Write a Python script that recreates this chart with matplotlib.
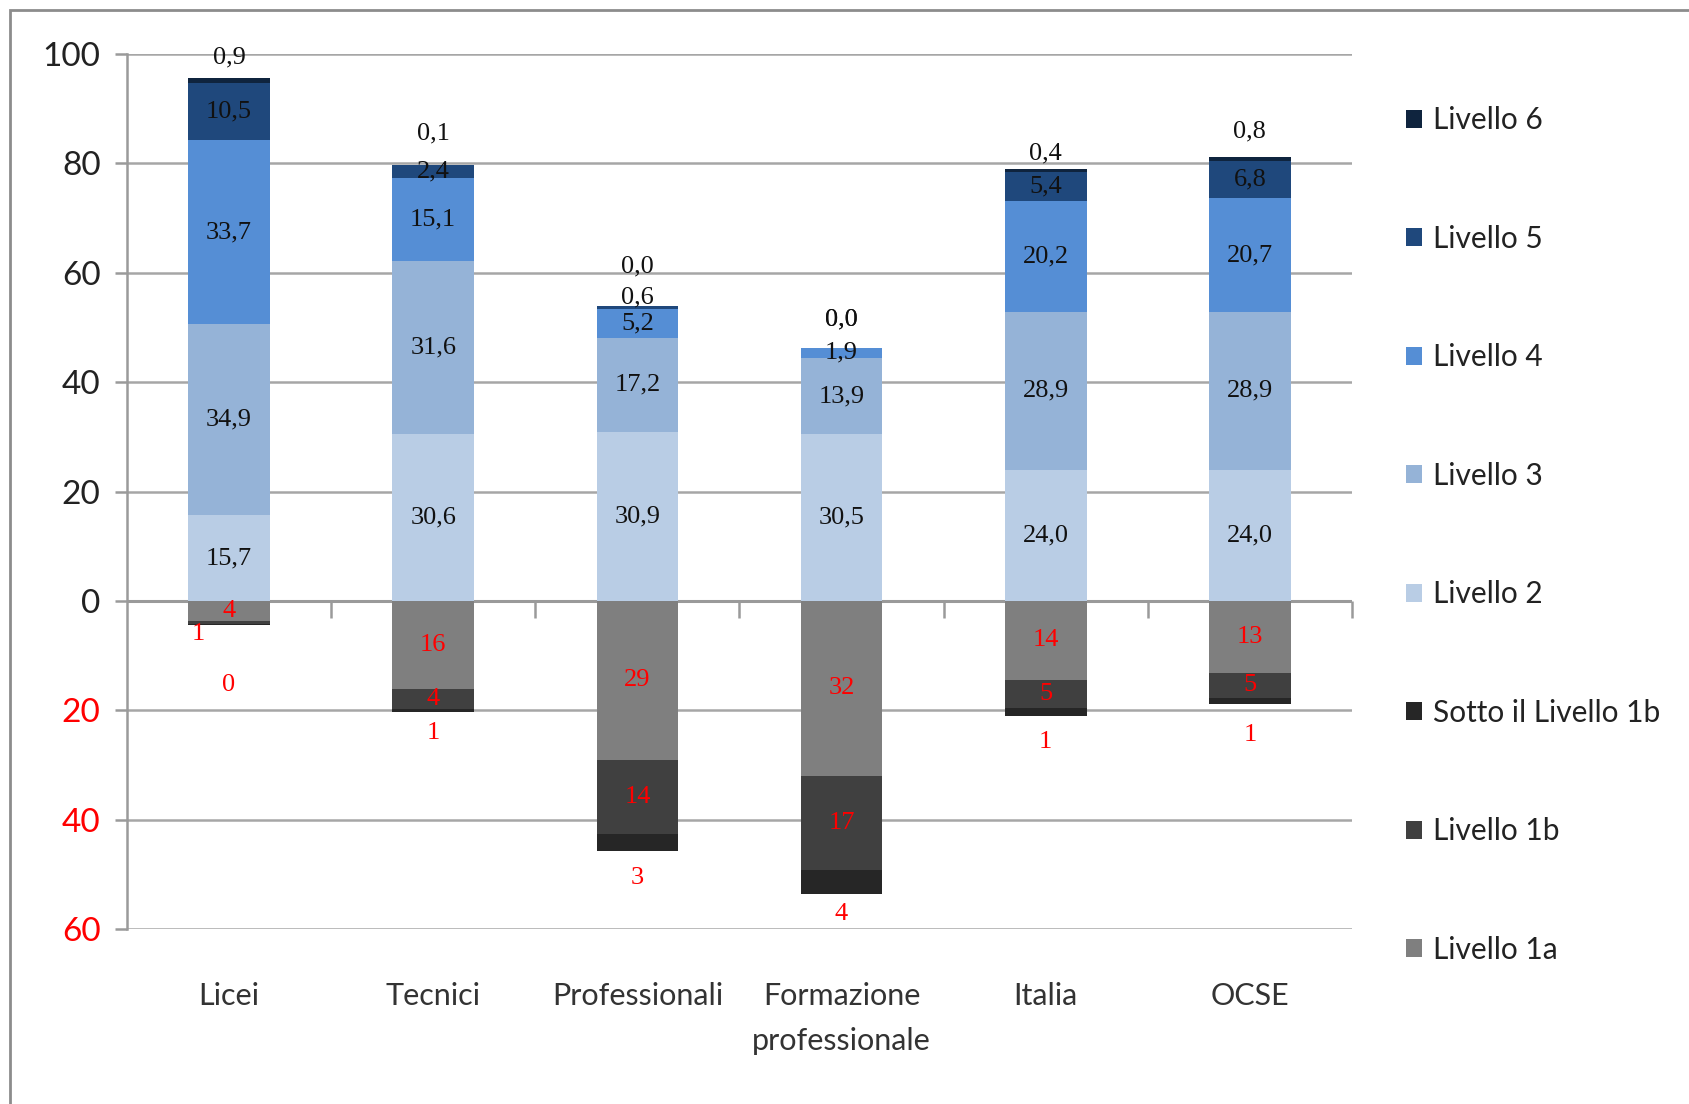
import numpy as np
import matplotlib.pyplot as plt
from matplotlib.patches import Rectangle

plt.rcParams['font.family'] = ['Lato', 'DejaVu Sans']

categories = ["Licei", "Tecnici", "Professionali", "Formazione\nprofessionale", "Italia", "OCSE"]

# percentuali per livello (sopra lo zero)
liv2 = [15.7, 30.6, 30.9, 30.5, 24.0, 24.0]
liv3 = [34.9, 31.6, 17.2, 13.9, 28.9, 28.9]
liv4 = [33.7, 15.1, 5.2, 1.9, 20.2, 20.7]
liv5 = [10.5, 2.4, 0.6, 0.0, 5.4, 6.8]
liv6 = [0.9, 0.1, 0.0, 0.0, 0.4, 0.8]
# sotto lo zero
liv1a = [3.6, 16.1, 29.0, 32.0, 14.4, 13.1]
liv1b = [0.7, 3.7, 13.6, 17.2, 5.2, 4.6]
sotto1b = [0.1, 0.6, 3.2, 4.4, 1.4, 1.1]

# spostamenti delle etichette piccole (come nell'originale)
top_dy = [3.6, 5.6, 7.3, 5.1, 2.9, 4.7]
bottom_dy = [-10.9, -3.8, -4.9, -3.6, -4.8, -5.8]
nudge = {("Livello 5", 2): (0, 1.9), ("Livello 5", 3): (0, 5.1),
         ("Livello 1b", 0): (-0.15, -2.05)}

pos_levels = [("Livello 2", liv2, "#b9cde5"),
              ("Livello 3", liv3, "#95b3d7"),
              ("Livello 4", liv4, "#558ed5"),
              ("Livello 5", liv5, "#1f487c"),
              ("Livello 6", liv6, "#0f243e")]
neg_levels = [("Livello 1a", liv1a, "#7f7f7f"),
              ("Livello 1b", liv1b, "#404040"),
              ("Sotto il Livello 1b", sotto1b, "#262626")]

fig = plt.figure(figsize=(16.9, 11.04), dpi=100)
ax = fig.add_axes([0.0751, 0.1585, 0.7249, 0.7925])

x = np.arange(len(categories))
w = 0.4
lab_font = dict(family=['Liberation Serif', 'DejaVu Serif'], fontsize=19)
handles = {}

bottom = np.zeros(len(x))
for name, vals, col in pos_levels:
    vals = np.array(vals)
    b = ax.bar(x, vals, w, bottom=bottom, color=col, zorder=2)
    handles[name] = b
    for j in x:
        if name == "Livello 6":
            ty = bottom[j] + vals[j] + top_dy[j]
            tx = j
        else:
            dx, dy = nudge.get((name, j), (0, 0))
            ty = bottom[j] + vals[j] / 2 + dy
            tx = j + dx
        ax.text(tx, ty, f"{vals[j]:.1f}".replace(".", ","), ha="center", va="center",
                color="#111111", zorder=4, **lab_font)
    bottom += vals

nbottom = np.zeros(len(x))
for name, vals, col in neg_levels:
    vals = np.array(vals)
    b = ax.bar(x, -vals, w, bottom=nbottom, color=col, zorder=2)
    handles[name] = b
    for j in x:
        if name == "Sotto il Livello 1b":
            ty = nbottom[j] - vals[j] + bottom_dy[j]
            tx = j
        else:
            dx, dy = nudge.get((name, j), (0, 0))
            ty = nbottom[j] - vals[j] / 2 + dy
            tx = j + dx
        ax.text(tx, ty, f"{round(vals[j])}", ha="center", va="center",
                color="#ff0000", zorder=4, **lab_font)
    nbottom -= vals

# asse dello zero con le tacche tra le categorie
ax.axhline(0, color="#9a9a9a", lw=2.2, zorder=1)
ax.plot(x + 0.5, np.zeros(len(x)), ls="", marker=3, ms=12, mew=1.8,
        color="#9a9a9a", clip_on=False, zorder=1)

ax.set_xlim(-0.5, len(x) - 0.5)
ax.set_ylim(-60, 100)
yt = np.arange(-60, 101, 20)
ax.set_yticks(yt)
ax.set_yticklabels([str(abs(t)) for t in yt])
for t, lbl in zip(yt, ax.get_yticklabels()):
    lbl.set_color("#ff0000" if t < 0 else "#222222")
ax.tick_params(axis="y", length=9, width=1.8, color="#9a9a9a", labelsize=24, pad=10)
ax.set_xticks(x)
ax.set_xticklabels(categories, fontsize=22, color="#333333", linespacing=1.75)
ax.tick_params(axis="x", length=0, pad=38)

ax.yaxis.grid(True, color="#a6a6a6", lw=1.8, zorder=0)
ax.set_axisbelow(True)
for s in ["top", "right", "bottom"]:
    ax.spines[s].set_visible(False)
ax.spines["left"].set_color("#9a9a9a")
ax.spines["left"].set_linewidth(1.8)

order = ["Livello 6", "Livello 5", "Livello 4", "Livello 3", "Livello 2",
         "Sotto il Livello 1b", "Livello 1b", "Livello 1a"]
fig.legend([handles[k] for k in order], order, loc="upper left",
           bbox_to_anchor=(0.816, 0.928), frameon=False, fontsize=21.5,
           handlelength=0.55, handleheight=0.55, handletextpad=0.35,
           labelspacing=3.03, labelcolor="#222222")

# cornice esterna
fig.add_artist(Rectangle((0.006, -0.05), 1.1, 0.05 + 0.991, transform=fig.transFigure,
                         fill=False, ec="#8c8c8c", lw=2))

fig.savefig("out.png", dpi=100)
